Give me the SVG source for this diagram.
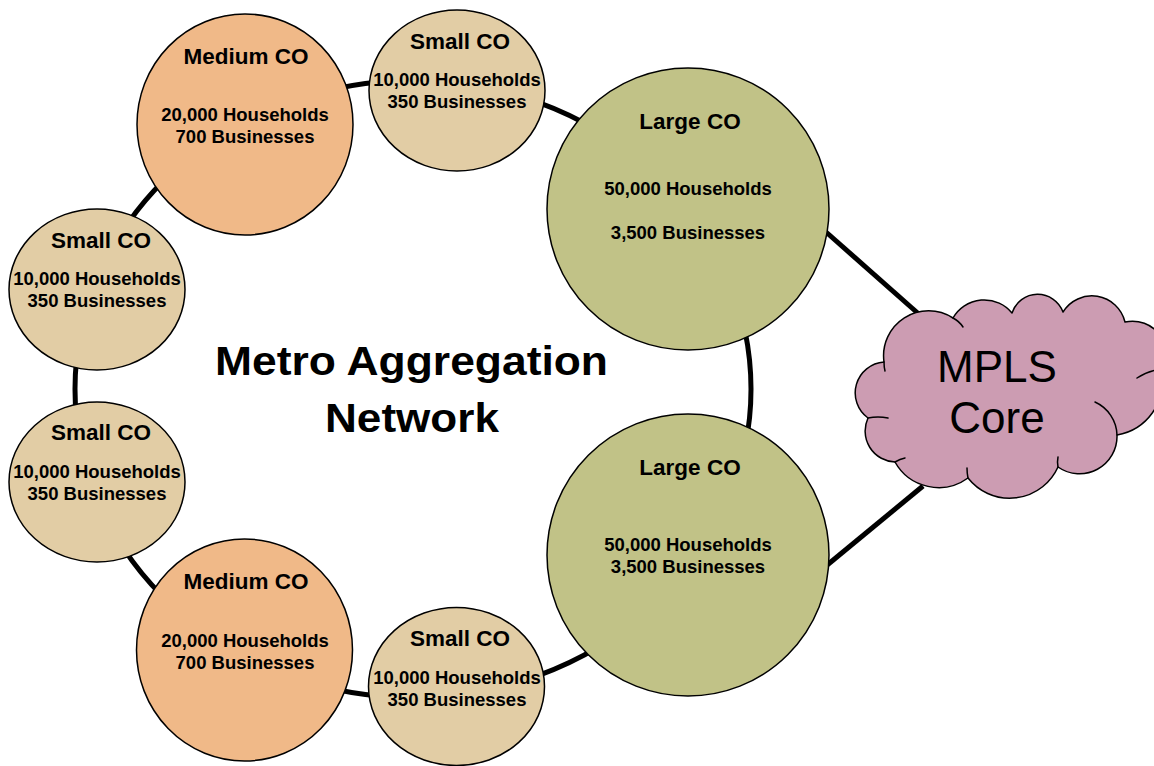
<svg xmlns="http://www.w3.org/2000/svg" width="1154" height="766" viewBox="0 0 1154 766">
  <style>
    .link { fill: none; stroke: #000; stroke-width: 5; }
    .co { stroke: #000; stroke-width: 1.5; }
    .small { fill: #E2CDA5; }
    .medium { fill: #F0B988; }
    .large { fill: #C1C287; }
    .cloud { fill: #CC9CB2; stroke: #000; stroke-width: 1.5; stroke-linejoin: round; }
    .inner { fill: none; stroke: #000; stroke-width: 1.5; stroke-linecap: round; }
    text { font-family: "Liberation Sans", Arial, sans-serif; text-anchor: middle; fill: #000; }
    .name { font-size: 22.5px; font-weight: bold; }
    .info { font-size: 18.5px; font-weight: bold; }
    .title { font-size: 41px; font-weight: bold; }
    .core { font-size: 44px; }
  </style>

  <rect width="1154" height="766" fill="#fff"/>

  <!-- ring and uplinks -->
  <g id="connectors">
    <ellipse class="link" cx="413" cy="389" rx="338" ry="308.6"/>
    <line class="link" x1="826" y1="232" x2="921" y2="316"/>
    <line class="link" x1="826" y1="566" x2="923" y2="486"/>
  </g>

  <!-- title -->
  <g id="title">
    <text class="title" x="411.5" y="375" textLength="393" lengthAdjust="spacingAndGlyphs">Metro Aggregation</text>
    <text class="title" x="412" y="432" textLength="174" lengthAdjust="spacingAndGlyphs">Network</text>
  </g>

  <!-- MPLS core cloud -->
  <g id="mpls-core">
    <path class="cloud" d="M868,418
      A31,31 0 0 1 884,362
      A45,45 0 0 1 953,318
      A36,36 0 0 1 1012,313
      A27,27 0 0 1 1063,312
      A34,34 0 0 1 1125,322
      A34,34 0 0 1 1162,372
      A55,55 0 0 1 1117,435
      A37.5,37.5 0 0 1 1058,467
      A53,53 0 0 1 968,478
      A50,50 0 0 1 895,462
      A31,31 0 0 1 868,418 Z"/>
    <path class="inner" d="M884,362 Q884,367 885,371"/>
    <path class="inner" d="M953,318 Q959,321 963,327"/>
    <path class="inner" d="M1137,378 Q1146,372 1156,370"/>
    <path class="inner" d="M1117,435 A37.5,37.5 0 0 0 1095,402"/>
    <path class="inner" d="M1058,467 Q1057,462 1058,457"/>
    <path class="inner" d="M968,478 Q967,473 967,468"/>
    <path class="inner" d="M895,462 Q900,459 905,458"/>
    <path class="inner" d="M868,418 Q878,416 888,418"/>
    <text class="core" x="997" y="382">MPLS</text>
    <text class="core" x="997" y="433">Core</text>
  </g>

  <g id="medium-co-top">
    <ellipse class="co medium" cx="245" cy="124.5" rx="108" ry="110.5"/>
    <text class="name" x="246" y="64">Medium CO</text>
    <text class="info" x="245" y="121">20,000 Households</text>
    <text class="info" x="245" y="143">700 Businesses</text>
  </g>

  <g id="small-co-top">
    <ellipse class="co small" cx="457" cy="90.5" rx="88" ry="80.5"/>
    <text class="name" x="460" y="49">Small CO</text>
    <text class="info" x="457" y="86">10,000 Households</text>
    <text class="info" x="457" y="108">350 Businesses</text>
  </g>

  <g id="large-co-top">
    <circle class="co large" cx="688" cy="209" r="141"/>
    <text class="name" x="690" y="129">Large CO</text>
    <text class="info" x="688" y="195">50,000 Households</text>
    <text class="info" x="688" y="239">3,500 Businesses</text>
  </g>

  <g id="small-co-left-1">
    <ellipse class="co small" cx="97" cy="289.5" rx="88" ry="80.5"/>
    <text class="name" x="101" y="248">Small CO</text>
    <text class="info" x="97" y="285">10,000 Households</text>
    <text class="info" x="97" y="307">350 Businesses</text>
  </g>

  <g id="small-co-left-2">
    <ellipse class="co small" cx="97" cy="482" rx="88" ry="80"/>
    <text class="name" x="101" y="440">Small CO</text>
    <text class="info" x="97" y="478">10,000 Households</text>
    <text class="info" x="97" y="500">350 Businesses</text>
  </g>

  <g id="medium-co-bottom">
    <ellipse class="co medium" cx="244.5" cy="650" rx="108" ry="111"/>
    <text class="name" x="246" y="589">Medium CO</text>
    <text class="info" x="245" y="647">20,000 Households</text>
    <text class="info" x="245" y="669">700 Businesses</text>
  </g>

  <g id="small-co-bottom">
    <ellipse class="co small" cx="456.5" cy="686.5" rx="88" ry="79"/>
    <text class="name" x="460" y="646">Small CO</text>
    <text class="info" x="457" y="684">10,000 Households</text>
    <text class="info" x="457" y="706">350 Businesses</text>
  </g>

  <g id="large-co-bottom">
    <circle class="co large" cx="688" cy="555" r="141"/>
    <text class="name" x="690" y="475">Large CO</text>
    <text class="info" x="688" y="551">50,000 Households</text>
    <text class="info" x="688" y="573">3,500 Businesses</text>
  </g>
</svg>
